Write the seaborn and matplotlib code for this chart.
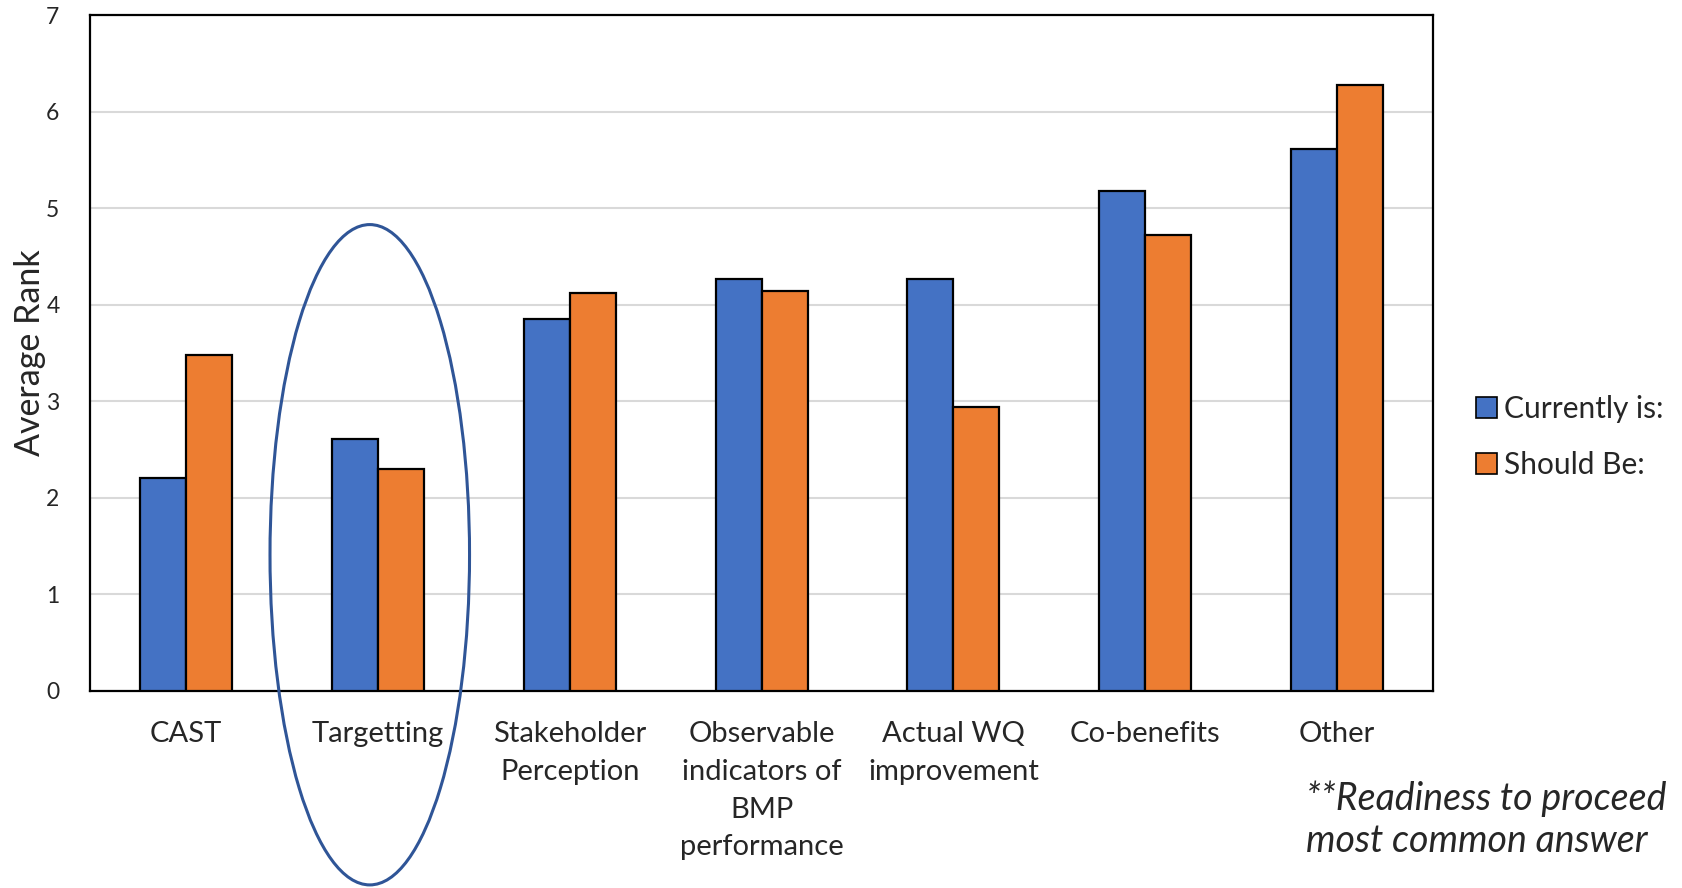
import matplotlib
matplotlib.use("Agg")
import matplotlib.pyplot as plt
from matplotlib.patches import Ellipse, Patch
import seaborn as sns
import pandas as pd

categories = ["CAST", "Targetting", "Stakeholder\nPerception",
              "Observable\nindicators of\nBMP\nperformance",
              "Actual WQ\nimprovement", "Co-benefits", "Other"]
currently_is = [2.21, 2.61, 3.85, 4.27, 4.27, 5.18, 5.61]
should_be = [3.48, 2.30, 4.12, 4.14, 2.94, 4.72, 6.28]
series_names = ["Currently is:", "Should Be:"]
y_ticks = [0, 1, 2, 3, 4, 5, 6, 7]

colors = ["#4472C4", "#ED7D31"]

df = pd.DataFrame({
    "category": categories * 2,
    "value": currently_is + should_be,
    "series": [series_names[0]] * len(categories) + [series_names[1]] * len(categories),
})

sns.set_style("white")
plt.rcParams["font.family"] = ["Lato", "DejaVu Sans"]

fig = plt.figure(figsize=(16.83, 8.88), dpi=100)
ax = fig.add_axes([0.0535, 0.222, 0.798, 0.761])

sns.barplot(data=df, x="category", y="value", hue="series", order=categories,
            hue_order=series_names, palette=colors, width=0.48, gap=0,
            edgecolor="black", linewidth=1.6, saturation=1, errorbar=None,
            legend=False, ax=ax, zorder=3)

ax.set_ylim(0, 7)
ax.set_xlim(-0.5, len(categories) - 0.5)
ax.set_yticks(y_ticks)
ax.yaxis.grid(True, color="#d9d9d9", linewidth=1.5, zorder=0)
ax.set_axisbelow(True)
ax.tick_params(axis="both", length=0)
ax.tick_params(axis="y", labelsize=16.5, pad=22)
ax.tick_params(axis="x", labelsize=21, pad=22)
for lbl in ax.get_xticklabels():
    lbl.set_linespacing(1.55)
    lbl.set_verticalalignment("top")
for spine in ax.spines.values():
    spine.set_visible(True)
    spine.set_color("black")
    spine.set_linewidth(1.6)
ax.set_xlabel("")
ax.set_ylabel("Average Rank", fontsize=24.5, labelpad=0)

# highlight ring around the second category
ring = Ellipse((0.958, 1.41), width=1.04, height=6.84, fill=False,
               edgecolor="#2F5597", linewidth=2.2, clip_on=False, zorder=5)
ax.add_patch(ring)

handles = [Patch(facecolor=c, edgecolor="black", linewidth=1.2) for c in colors]
fig.legend(handles, series_names, loc="center left",
           bbox_to_anchor=(0.877, 0.508), frameon=False, fontsize=21.5,
           handlelength=0.7, handleheight=0.7, handletextpad=0.25,
           labelspacing=0.95, borderaxespad=0, borderpad=0)

fig.text(0.776, 0.077, "**Readiness to proceed\nmost common answer",
         fontsize=27, style="italic", ha="left", va="center", linespacing=1.22)

fig.savefig("out.png", dpi=100)
